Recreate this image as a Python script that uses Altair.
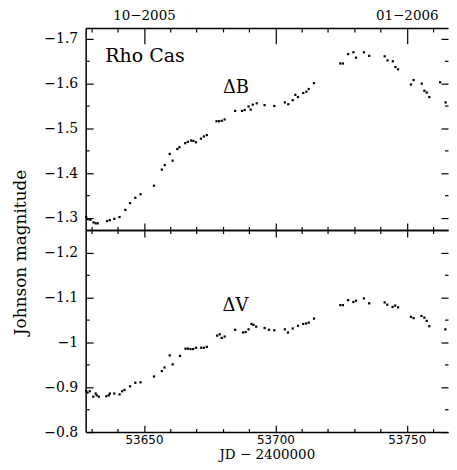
import altair as alt
import pandas as pd

# ---------------- data ----------------
jd_b = [53628.0, 53628.6, 53629.6, 53630.8, 53631.6, 53632.4, 53636.0, 53637.0, 53638.7, 53640.7,
        53642.9, 53644.7, 53646.7, 53648.7, 53653.8, 53656.8, 53657.9, 53659.8, 53660.9, 53662.7,
        53663.5, 53665.7, 53666.7, 53667.9, 53668.8, 53669.8, 53671.7, 53672.8, 53673.9, 53677.6,
        53678.6, 53679.6, 53680.7, 53684.7, 53687.3, 53688.3, 53689.8, 53690.6, 53691.4, 53692.9,
        53695.9, 53699.6, 53703.6, 53704.9, 53706.6, 53707.6, 53708.6, 53710.6, 53711.8, 53712.7,
        53714.7, 53724.7, 53725.7, 53727.7, 53729.7, 53730.7, 53733.7, 53735.7, 53741.6, 53742.7,
        53744.7, 53745.7, 53746.7, 53751.6, 53752.6, 53755.7, 53756.7, 53757.6, 53758.6, 53762.7,
        53764.8]
mag_b = [-1.302, -1.297, -1.296, -1.290, -1.288, -1.288, -1.293, -1.295, -1.298, -1.302,
         -1.318, -1.333, -1.345, -1.353, -1.372, -1.408, -1.418, -1.443, -1.428, -1.454,
         -1.458, -1.467, -1.470, -1.473, -1.472, -1.469, -1.477, -1.482, -1.485, -1.516,
         -1.516, -1.517, -1.520, -1.539, -1.539, -1.541, -1.549, -1.542, -1.553, -1.556,
         -1.552, -1.550, -1.558, -1.554, -1.563, -1.575, -1.570, -1.579, -1.582, -1.588,
         -1.601, -1.645, -1.645, -1.666, -1.670, -1.658, -1.670, -1.662, -1.661, -1.652,
         -1.650, -1.637, -1.632, -1.598, -1.608, -1.600, -1.584, -1.580, -1.570, -1.603,
         -1.558]

jd_v = [53628.0, 53628.5, 53629.4, 53630.7, 53631.6, 53632.0, 53632.8, 53635.7, 53636.6, 53637.0,
        53638.7, 53640.7, 53641.7, 53642.6, 53644.7, 53646.7, 53648.7, 53653.8, 53656.8, 53657.8,
        53659.8, 53660.9, 53663.7, 53665.8, 53666.7, 53667.7, 53668.7, 53669.8, 53671.8, 53672.8,
        53673.9, 53677.8, 53678.8, 53679.6, 53680.7, 53684.7, 53687.7, 53688.7, 53689.8, 53690.9,
        53691.7, 53692.7, 53695.9, 53697.6, 53699.6, 53703.6, 53704.8, 53706.6, 53708.6, 53710.6,
        53711.7, 53712.7, 53714.7, 53724.7, 53725.7, 53727.7, 53729.7, 53730.7, 53733.7, 53735.7,
        53741.6, 53742.6, 53744.6, 53745.6, 53746.7, 53751.6, 53752.6, 53755.6, 53756.7, 53757.6,
        53758.6, 53764.7]
mag_v = [-0.891, -0.888, -0.891, -0.879, -0.886, -0.882, -0.879, -0.880, -0.882, -0.886,
         -0.886, -0.884, -0.891, -0.894, -0.902, -0.910, -0.911, -0.924, -0.936, -0.944,
         -0.971, -0.951, -0.970, -0.986, -0.986, -0.985, -0.985, -0.988, -0.988, -0.988,
         -0.990, -1.015, -1.018, -1.010, -1.013, -1.028, -1.022, -1.023, -1.029, -1.041,
         -1.039, -1.035, -1.032, -1.028, -1.027, -1.029, -1.022, -1.031, -1.037, -1.041,
         -1.042, -1.044, -1.053, -1.083, -1.083, -1.094, -1.090, -1.093, -1.098, -1.087,
         -1.089, -1.084, -1.079, -1.082, -1.078, -1.057, -1.054, -1.059, -1.055, -1.048,
         -1.036, -1.029]

x_domain = [53627.8, 53765.7]
x_major = [53650, 53700, 53750]
x_minor = [53630, 53640, 53660, 53670, 53680, 53690, 53710, 53720, 53730, 53740, 53760]
top_tick_jd = [53650, 53750]
top_tick_labels = ["10\u22122005", "01\u22122006"]

b_domain = [-1.7244, -1.273]
b_major = [-1.7, -1.6, -1.5, -1.4, -1.3]
b_minor = [-1.65, -1.55, -1.45, -1.35]
v_domain = [-1.2504, -0.8]
v_major = [-1.2, -1.1, -1.0, -0.9, -0.8]
v_minor = [-1.15, -1.05, -0.95, -0.85]

star_name = ["Rho Cas"]
star_jd = [53635.3]
star_mag = [-1.662]
band_b_label = ["\u0394B"]
band_b_jd = [53685.0]
band_b_mag = [-1.591]
band_v_label = ["\u0394V"]
band_v_jd = [53684.8]
band_v_mag = [-1.082]

x_title = "JD \u2212 2400000"
y_title = "Johnson magnitude"

# ---------------- chart ----------------
W, H = 364, 203
SERIF = "DejaVu Serif"
SANS = "DejaVu Sans"

xscale = alt.Scale(domain=x_domain, nice=False, zero=False)


def yscale(dom):
    return alt.Scale(domain=dom, reverse=True, nice=False, zero=False)


def ax(**kw):
    d = dict(grid=False, title=None, labels=False, domain=False, ticks=True,
             tickColor="black", tickWidth=1.2, domainColor="black", domainWidth=1.5)
    d.update(kw)
    return alt.Axis(**d)


ylabel_expr = "(datum.value < 0 ? '\u2212' : '') + format(abs(datum.value), '~g')"
top_expr = " : ".join(
    f"datum.value == {v} ? '{t}'" for v, t in zip(top_tick_jd, top_tick_labels)
) + " : ''"


def panel(df, ydom, ymaj, ymin, is_top, texts):
    def enc(chart, xaxis, yaxis):
        return chart.encode(
            x=alt.X("jd:Q", scale=xscale, axis=xaxis),
            y=alt.Y("mag:Q", scale=yscale(ydom), axis=yaxis),
        )

    if is_top:
        x0 = ax(orient="top", values=top_tick_jd, labels=True, labelExpr=top_expr,
                ticks=False, tickSize=0, domain=True, labelPadding=5,
                labelFont=SERIF, labelFontSize=13.5, labelColor="black")
        y0 = ax(orient="left", values=ymaj, labels=True, labelExpr=ylabel_expr,
                ticks=False, tickSize=0, domain=True, labelPadding=8,
                labelFont=SERIF, labelFontSize=14, labelColor="black",
                title=y_title, titleY=225, titlePadding=14.5, titleFont=SERIF,
                titleFontSize=17, titleFontWeight="normal", titleColor="black")
        top_major, top_minor = 16, 4
    else:
        x0 = ax(orient="bottom", values=x_major, labels=True, ticks=False, tickSize=0,
                domain=True, labelPadding=2, labelFont=SANS, labelFontSize=12,
                labelColor="black", format="d",
                title=x_title, titlePadding=2.5, titleFont=SERIF, titleFontSize=13.5,
                titleFontWeight="normal", titleColor="black")
        y0 = ax(orient="left", values=ymaj, labels=True, labelExpr=ylabel_expr,
                ticks=False, tickSize=0, domain=True, labelPadding=8,
                labelFont=SERIF, labelFontSize=14, labelColor="black")
        top_major, top_minor = 7, 3.5

    layers = [
        enc(alt.Chart(df).mark_square(size=5, color="black", opacity=1), x0, y0),
        enc(alt.Chart(df).mark_point(opacity=0),
            ax(orient="bottom", offset=-H, values=x_major, tickSize=top_major, domain=not is_top),
            ax(orient="right", offset=-W, values=ymaj, tickSize=7.5)),
        enc(alt.Chart(df).mark_point(opacity=0),
            ax(orient="bottom", offset=-H, values=x_minor, tickSize=top_minor),
            ax(orient="right", offset=-W, values=ymin, tickSize=3.5)),
        enc(alt.Chart(df).mark_point(opacity=0),
            ax(orient="top", offset=-H, values=x_major, tickSize=7, domain=is_top),
            ax(orient="left", offset=-W, values=ymaj, tickSize=7)),
        enc(alt.Chart(df).mark_point(opacity=0),
            ax(orient="top", offset=-H, values=x_minor, tickSize=3.5),
            ax(orient="left", offset=-W, values=ymin, tickSize=3.5)),
    ]
    for tdf, font, size, align in texts:
        layers.append(
            alt.Chart(tdf).mark_text(font=font, fontSize=size, align=align,
                                     baseline="middle", color="black").encode(
                x=alt.X("jd:Q", scale=xscale, axis=None),
                y=alt.Y("mag:Q", scale=yscale(ydom), axis=None),
                text="t:N",
            )
        )
    return alt.layer(*layers).resolve_axis(x="independent", y="independent").properties(
        width=W, height=H)


df_b = pd.DataFrame({"jd": jd_b, "mag": mag_b})
df_v = pd.DataFrame({"jd": jd_v, "mag": mag_v})
t_star = pd.DataFrame({"jd": star_jd, "mag": star_mag, "t": star_name})
t_b = pd.DataFrame({"jd": band_b_jd, "mag": band_b_mag, "t": band_b_label})
t_v = pd.DataFrame({"jd": band_v_jd, "mag": band_v_mag, "t": band_v_label})

top = panel(df_b, b_domain, b_major, b_minor, True,
            [(t_star, SERIF, 19, "left"), (t_b, SERIF, 18, "center")])
bottom = panel(df_v, v_domain, v_major, v_minor, False,
               [(t_v, SERIF, 18, "center")])

chart = alt.vconcat(top, bottom, spacing=0, bounds="flush").properties(
    padding={"left": 3, "top": 0, "right": 0, "bottom": -0.5},
    background="white",
).configure_view(strokeWidth=0)

chart.save("out.html", embed_options={"renderer": "svg", "actions": False})
